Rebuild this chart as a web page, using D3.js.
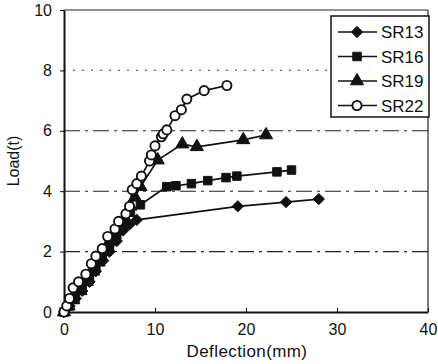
<!DOCTYPE html>
<html><head><meta charset="utf-8">
<script src="https://cdn.jsdelivr.net/npm/d3@7"></script>
<style>body{margin:0;background:#fff}svg{display:block}text{font-family:"Liberation Sans",Arial,sans-serif;fill:#111}</style>
</head><body><svg id="c" width="438" height="364"></svg>
<script>
const seriesNames = ["SR13","SR16","SR19","SR22"];
const sr13 = [[0,0],[0.6,0.2],[1.3,0.45],[2,0.7],[2.8,1.0],[3.5,1.35],[4.3,1.7],[5,2.0],[5.8,2.35],[6.5,2.7],[7.2,2.9],[8.0,3.05],[19.1,3.5],[24.4,3.64],[28.0,3.74]];
const sr16 = [[0,0],[0.6,0.2],[1.2,0.45],[2,0.75],[2.8,1.1],[3.5,1.45],[4.2,1.8],[5,2.15],[5.8,2.55],[6.6,2.9],[7.3,3.3],[8.4,3.55],[11.3,4.15],[12.3,4.18],[14,4.25],[15.8,4.35],[17.8,4.45],[19,4.5],[23.4,4.64],[25,4.7]];
const sr19 = [[0,0],[0.5,0.2],[1,0.4],[1.8,0.7],[2.5,1.0],[3.2,1.35],[3.8,1.65],[4.5,2.0],[5.2,2.35],[6,2.75],[6.7,3.1],[7.3,3.5],[7.8,3.8],[8.4,4.15],[10.3,5.03],[13.0,5.56],[14.6,5.47],[19.7,5.7],[22.2,5.86]];
const sr22 = [[0,0],[0.3,0.2],[0.6,0.45],[1.0,0.8],[1.6,1.0],[2.4,1.25],[3.0,1.6],[3.5,1.85],[4.2,2.1],[4.8,2.5],[5.6,2.75],[6.0,3.0],[6.8,3.25],[7.2,3.5],[7.5,4.05],[8.0,4.25],[8.5,4.5],[9.4,5.0],[9.6,5.2],[10.0,5.5],[10.7,5.8],[10.9,5.9],[11.3,6.03],[12.2,6.5],[12.9,6.7],[13.5,7.05],[15.4,7.33],[17.9,7.5]];
const xTicks = [0,10,20,30,40];
const yTicks = [0,2,4,6,8,10];
const gridVals = [2,4,6,8];

const svg = d3.select("#c");
const x = d3.scaleLinear().domain([0,40]).range([64,428]);
const y = d3.scaleLinear().domain([0,10]).range([312,10]);

// gridlines
svg.append("g").selectAll("line").data(gridVals).join("line")
  .attr("x1",x(0)).attr("x2",x(40)).attr("y1",d=>y(d)).attr("y2",d=>y(d))
  .attr("stroke",d=>d===8?"#666":"#222").attr("stroke-width",1.1)
  .attr("stroke-dasharray",d=>d===8?"2,7":"16,5,3,5");

// frame
svg.append("line").attr("x1",x(0)).attr("x2",x(40)).attr("y1",y(10)).attr("y2",y(10)).attr("stroke","#222").attr("stroke-width",1.2);
svg.append("line").attr("x1",x(40)).attr("x2",x(40)).attr("y1",y(10)).attr("y2",y(0)).attr("stroke","#222").attr("stroke-width",1.2);

const xAxis = svg.append("g").attr("transform",`translate(0,${y(0)})`)
  .call(d3.axisBottom(x).tickValues(xTicks).tickSize(-4).tickPadding(12).tickSizeOuter(0));
xAxis.select(".domain").attr("stroke","#111").attr("stroke-width",2);
xAxis.selectAll("text").attr("font-size",16);
const yAxis = svg.append("g").attr("transform",`translate(${x(0)},0)`)
  .call(d3.axisLeft(y).tickValues(yTicks).tickSize(4).tickPadding(8).tickSizeOuter(0));
yAxis.select(".domain").attr("stroke","#111").attr("stroke-width",2);
yAxis.selectAll("text").attr("font-size",16);

svg.append("text").attr("x",247).attr("y",357).attr("text-anchor","middle").attr("font-size",17).attr("letter-spacing",0.4).text("Deflection(mm)");
svg.append("text").attr("transform","translate(19,161) rotate(-90)").attr("text-anchor","middle").attr("font-size",16).text("Load(t)");

const diamond = {draw(ctx,size){const r=Math.sqrt(size/2);ctx.moveTo(0,-r);ctx.lineTo(r,0);ctx.lineTo(0,r);ctx.lineTo(-r,0);ctx.closePath();}};
const symbols = [diamond, d3.symbolSquare, d3.symbolTriangle, d3.symbolCircle];
const sizes = [64, 72, 75, 66];
const fills = ["#111","#111","#111","#fff"];
const data = [sr13, sr16, sr19, sr22];
const line = d3.line().x(d=>x(d[0])).y(d=>y(d[1]));

data.forEach((s,i)=>{
  svg.append("path").attr("d",line(s)).attr("fill","none").attr("stroke","#111").attr("stroke-width",1.7);
});
data.forEach((s,i)=>{
  svg.append("g").selectAll("path").data(s).join("path")
    .attr("transform",d=>`translate(${x(d[0])},${y(d[1])})`)
    .attr("d",d3.symbol().type(symbols[i]).size(sizes[i]))
    .attr("fill",fills[i]).attr("stroke","#111").attr("stroke-width",i===3?1.9:1);
});

// legend
const lg = svg.append("g");
lg.append("rect").attr("x",331).attr("y",16).attr("width",98).attr("height",101).attr("fill","#fff").attr("stroke","#111").attr("stroke-width",1.5);
seriesNames.forEach((n,i)=>{
  const ly = 32 + i*24.5;
  lg.append("line").attr("x1",338).attr("x2",377).attr("y1",ly).attr("y2",ly).attr("stroke","#111").attr("stroke-width",1.7);
  lg.append("path").attr("transform",`translate(357,${ly})`).attr("d",d3.symbol().type(symbols[i]).size(sizes[i]))
    .attr("fill",fills[i]).attr("stroke","#111").attr("stroke-width",i===3?1.9:1);
  lg.append("text").attr("x",381).attr("y",ly+6).attr("font-size",17).text(n);
});
</script></body></html>
